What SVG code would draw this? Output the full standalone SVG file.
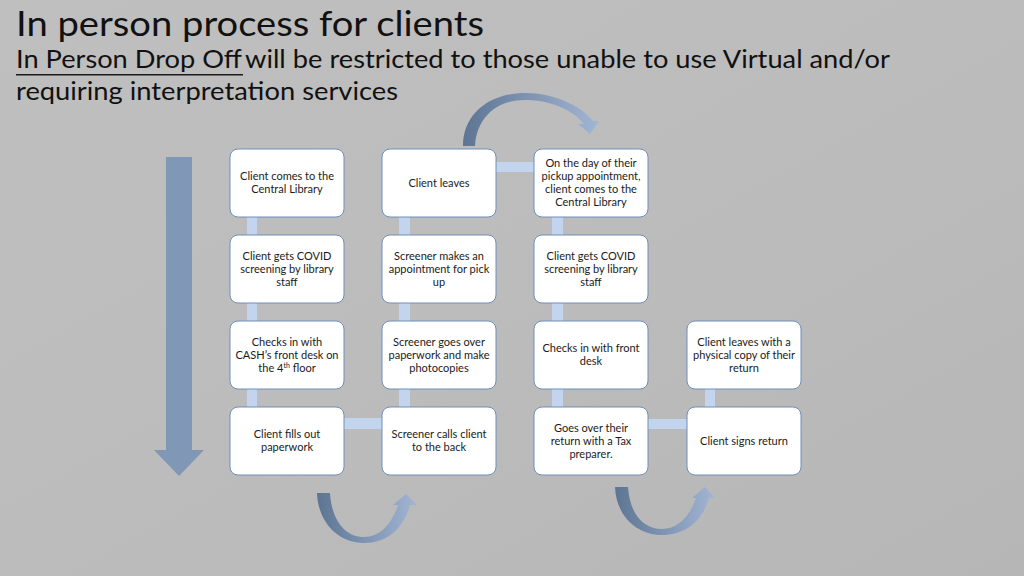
<svg xmlns="http://www.w3.org/2000/svg" width="1024" height="576" viewBox="0 0 1024 576">
<defs>
<linearGradient id="bg" x1="0" y1="0" x2="1" y2="1">
<stop offset="0" stop-color="#bfbfbf"/>
<stop offset="0.5" stop-color="#bcbcbc"/>
<stop offset="1" stop-color="#b6b6b6"/>
</linearGradient>
<linearGradient id="curve" x1="0" y1="0" x2="1" y2="0">
<stop offset="0" stop-color="#5d7493"/>
<stop offset="1" stop-color="#a2b6d4"/>
</linearGradient>
<style>
.box{fill:#ffffff;stroke:#6f8fb8;stroke-width:1}
.t{font-family:Lato,"Liberation Sans",sans-serif;font-size:11px;fill:#1a1a1a;text-anchor:middle}
.bar{fill:#c3d5ee}
.h{font-family:Lato,"Liberation Sans",sans-serif;fill:#111111}
</style>
</defs>
<rect x="0" y="0" width="1024" height="576" fill="url(#bg)"/>

<g id="title">
<text class="h" x="16" y="36" font-size="35" textLength="468" lengthAdjust="spacingAndGlyphs">In person process for clients</text>
<text class="h" x="16" y="68" font-size="25" fill="#1a1a1a" textLength="226" lengthAdjust="spacingAndGlyphs">In Person Drop Off</text>
<rect x="16" y="74" width="227" height="1.5" fill="#1a1a1a"/>
<text class="h" x="245" y="68" font-size="25" fill="#1a1a1a" textLength="645" lengthAdjust="spacingAndGlyphs">will be restricted to those unable to use Virtual and/or</text>
<text class="h" x="16" y="100" font-size="25" fill="#1a1a1a" textLength="382" lengthAdjust="spacingAndGlyphs">requiring interpretation services</text>
</g>

<g id="flow-arrows">
<path d="M166,157 L192,157 L192,450 L204,450 L179,476 L154,450 L166,450 Z" fill="#8097b5"/>
<path d="M463,146 C463,112 492,93 525,93 C555,93 581,106 593,121 L599,121 L590,134 L578,124 L584,124 C573,110 551,100 525,100 C498,100 477,116 475,146 Z" fill="url(#curve)"/>
<path d="M317,493 L330,493 C332,522 346,537 364,537 C380,537 392,524 398,505 L393,505 L406,494 L417,505 L410,505 C403,530 386,543 364,543 C338,543 318,522 317,493 Z" fill="url(#curve)"/>
<path d="M615,487 L628,487 C630,515 644,529 662,529 C678,529 690,516 696,498 L692,498 L705,487 L715,498 L709,498 C702,522 685,535 662,535 C636,535 616,515 615,487 Z" fill="url(#curve)"/>
</g>

<g id="connectors">
<rect class="bar" x="247" y="217" width="10" height="190"/>
<rect class="bar" x="399" y="217" width="11" height="190"/>
<rect class="bar" x="552" y="217" width="11" height="190"/>
<rect class="bar" x="705" y="389" width="10" height="18"/>
<rect class="bar" x="496" y="162" width="38" height="10"/>
<rect class="bar" x="344" y="418" width="38" height="11"/>
<rect class="bar" x="648" y="419" width="39" height="10"/>
</g>

<g id="n1"><rect class="box" x="230" y="149" width="114" height="68" rx="8"/>
<text class="t" x="287" y="180">Client comes to the</text><text class="t" x="287" y="193">Central Library</text></g>
<g id="n2"><rect class="box" x="230" y="235" width="114" height="68" rx="8"/>
<text class="t" x="287" y="260">Client gets COVID</text><text class="t" x="287" y="273">screening by library</text><text class="t" x="287" y="286">staff</text></g>
<g id="n3"><rect class="box" x="230" y="321" width="114" height="68" rx="8"/>
<text class="t" x="287" y="346">Checks in with</text><text class="t" x="287" y="359">CASH’s  front desk on</text><text class="t" x="287" y="372">the 4<tspan font-size="7" dy="-4">th</tspan><tspan dy="4"> floor</tspan></text></g>
<g id="n4"><rect class="box" x="230" y="407" width="114" height="68" rx="8"/>
<text class="t" x="287" y="438">Client fills out</text><text class="t" x="287" y="451">paperwork</text></g>

<g id="n5"><rect class="box" x="382" y="407" width="114" height="68" rx="8"/>
<text class="t" x="439" y="438">Screener calls client</text><text class="t" x="439" y="451">to the back</text></g>
<g id="n6"><rect class="box" x="382" y="321" width="114" height="68" rx="8"/>
<text class="t" x="439" y="346">Screener goes over</text><text class="t" x="439" y="359">paperwork and make</text><text class="t" x="439" y="372">photocopies</text></g>
<g id="n7"><rect class="box" x="382" y="235" width="114" height="68" rx="8"/>
<text class="t" x="439" y="260">Screener makes an</text><text class="t" x="439" y="273">appointment for pick</text><text class="t" x="439" y="286">up</text></g>
<g id="n8"><rect class="box" x="382" y="149" width="114" height="68" rx="8"/>
<text class="t" x="439" y="187">Client leaves</text></g>

<g id="n9"><rect class="box" x="534" y="149" width="114" height="68" rx="8"/>
<text class="t" x="591" y="167">On the day of their</text><text class="t" x="591" y="180">pickup appointment,</text><text class="t" x="591" y="193">client comes to the</text><text class="t" x="591" y="206">Central Library</text></g>
<g id="n10"><rect class="box" x="534" y="235" width="114" height="68" rx="8"/>
<text class="t" x="591" y="260">Client gets COVID</text><text class="t" x="591" y="273">screening by library</text><text class="t" x="591" y="286">staff</text></g>
<g id="n11"><rect class="box" x="534" y="321" width="114" height="68" rx="8"/>
<text class="t" x="591" y="352">Checks in with front</text><text class="t" x="591" y="365">desk</text></g>
<g id="n12"><rect class="box" x="534" y="407" width="114" height="68" rx="8"/>
<text class="t" x="591" y="432">Goes over their</text><text class="t" x="591" y="445">return with a Tax</text><text class="t" x="591" y="458">preparer.</text></g>

<g id="n13"><rect class="box" x="687" y="407" width="114" height="68" rx="8"/>
<text class="t" x="744" y="445">Client signs return</text></g>
<g id="n14"><rect class="box" x="687" y="321" width="114" height="68" rx="8"/>
<text class="t" x="744" y="346">Client leaves with a</text><text class="t" x="744" y="359">physical copy of their</text><text class="t" x="744" y="372">return</text></g>
</svg>
